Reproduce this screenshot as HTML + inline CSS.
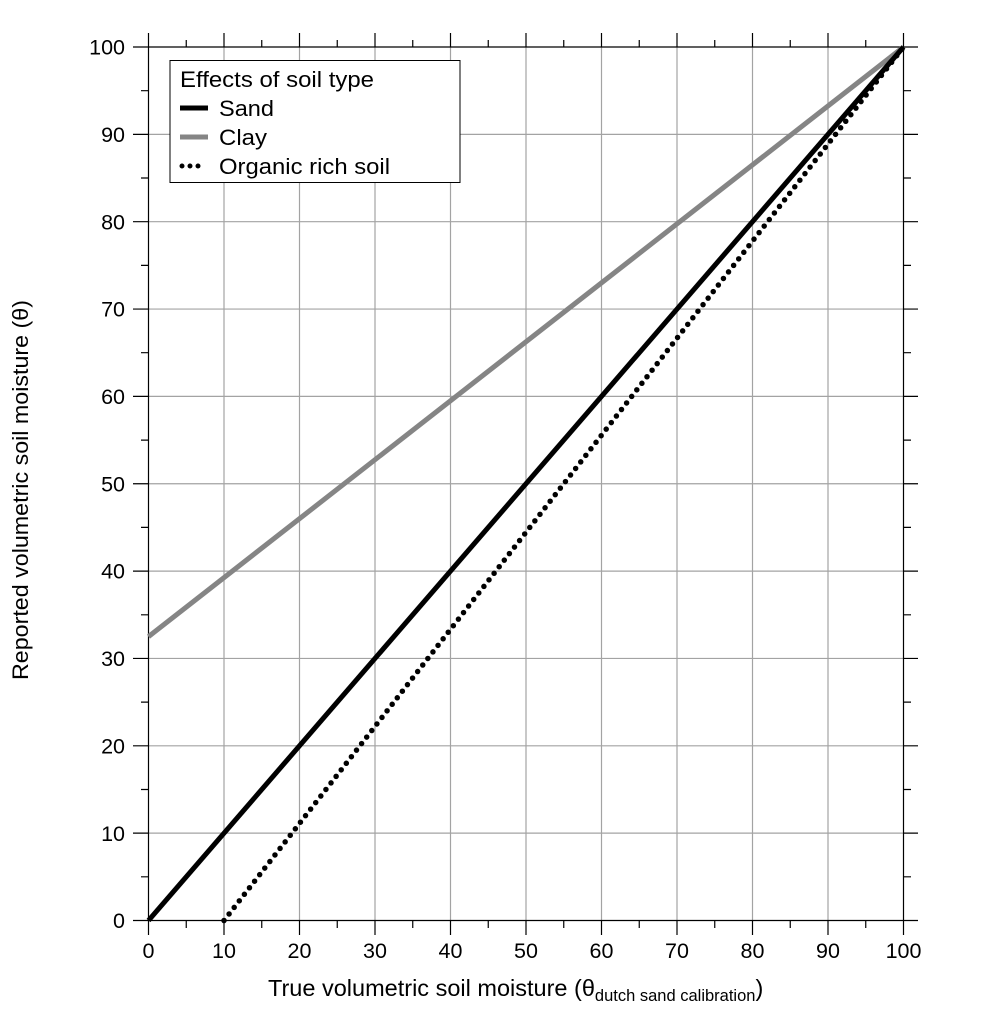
<!DOCTYPE html>
<html><head><style>body{margin:0;background:#fff}</style></head><body>
<svg width="1008" height="1008" xmlns="http://www.w3.org/2000/svg" font-family="Liberation Sans, sans-serif">
<g stroke="#a3a3a3" stroke-width="1.2">
<line x1="224" y1="47" x2="224" y2="920.5"/><line x1="299.5" y1="47" x2="299.5" y2="920.5"/><line x1="375" y1="47" x2="375" y2="920.5"/><line x1="450.5" y1="47" x2="450.5" y2="920.5"/><line x1="526" y1="47" x2="526" y2="920.5"/><line x1="601.5" y1="47" x2="601.5" y2="920.5"/><line x1="677" y1="47" x2="677" y2="920.5"/><line x1="752.5" y1="47" x2="752.5" y2="920.5"/><line x1="828" y1="47" x2="828" y2="920.5"/>
<line x1="148.5" y1="833.15" x2="903.5" y2="833.15"/><line x1="148.5" y1="745.8" x2="903.5" y2="745.8"/><line x1="148.5" y1="658.45" x2="903.5" y2="658.45"/><line x1="148.5" y1="571.1" x2="903.5" y2="571.1"/><line x1="148.5" y1="483.75" x2="903.5" y2="483.75"/><line x1="148.5" y1="396.4" x2="903.5" y2="396.4"/><line x1="148.5" y1="309.05" x2="903.5" y2="309.05"/><line x1="148.5" y1="221.7" x2="903.5" y2="221.7"/><line x1="148.5" y1="134.35" x2="903.5" y2="134.35"/>
</g>
<g stroke="#000" stroke-width="1.2">
<line x1="133" y1="47" x2="918" y2="47"/><line x1="133" y1="920.5" x2="918" y2="920.5"/>
<line x1="148.5" y1="33" x2="148.5" y2="935"/><line x1="903.5" y1="33" x2="903.5" y2="935"/>
<path d="M224 33V47M299.5 33V47M375 33V47M450.5 33V47M526 33V47M601.5 33V47M677 33V47M752.5 33V47M828 33V47
M224 920.5V935M299.5 920.5V935M375 920.5V935M450.5 920.5V935M526 920.5V935M601.5 920.5V935M677 920.5V935M752.5 920.5V935M828 920.5V935"/>
<path d="M186.25 40V47M261.75 40V47M337.25 40V47M412.75 40V47M488.25 40V47M563.75 40V47M639.25 40V47M714.75 40V47M790.25 40V47M865.75 40V47
M186.25 920.5V928M261.75 920.5V928M337.25 920.5V928M412.75 920.5V928M488.25 920.5V928M563.75 920.5V928M639.25 920.5V928M714.75 920.5V928M790.25 920.5V928M865.75 920.5V928"/>
<path d="M133 833.15H148.5M133 745.8H148.5M133 658.45H148.5M133 571.1H148.5M133 483.75H148.5M133 396.4H148.5M133 309.05H148.5M133 221.7H148.5M133 134.35H148.5
M903.5 833.15H918M903.5 745.8H918M903.5 658.45H918M903.5 571.1H918M903.5 483.75H918M903.5 396.4H918M903.5 309.05H918M903.5 221.7H918M903.5 134.35H918"/>
<path d="M141 876.8H148.5M141 789.5H148.5M141 702.1H148.5M141 614.8H148.5M141 527.4H148.5M141 440.1H148.5M141 352.7H148.5M141 265.4H148.5M141 178H148.5M141 90.7H148.5
M903.5 876.8H911M903.5 789.5H911M903.5 702.1H911M903.5 614.8H911M903.5 527.4H911M903.5 440.1H911M903.5 352.7H911M903.5 265.4H911M903.5 178H911M903.5 90.7H911"/>
</g>
<line x1="148.5" y1="636.6" x2="903.5" y2="47" stroke="#858585" stroke-width="5"/>
<line x1="148.5" y1="920.5" x2="903.5" y2="47" stroke="#000" stroke-width="5"/>
<line x1="224" y1="920.5" x2="903.5" y2="47" stroke="#000" stroke-width="5.5" stroke-linecap="round" stroke-dasharray="0 8.3"/>
<rect x="170" y="60.5" width="290" height="122" fill="#fff" stroke="#000" stroke-width="1"/>
<g font-size="22" fill="#000">
<text x="180" y="87" textLength="194" lengthAdjust="spacingAndGlyphs">Effects of soil type</text>
<text x="219" y="116" textLength="55" lengthAdjust="spacingAndGlyphs">Sand</text>
<text x="219" y="145" textLength="48" lengthAdjust="spacingAndGlyphs">Clay</text>
<text x="219" y="174" textLength="171" lengthAdjust="spacingAndGlyphs">Organic rich soil</text>
</g>
<line x1="180" y1="108" x2="208" y2="108" stroke="#000" stroke-width="5"/>
<line x1="180" y1="137" x2="208" y2="137" stroke="#858585" stroke-width="5"/>
<line x1="182" y1="166" x2="206" y2="166" stroke="#000" stroke-width="5" stroke-linecap="round" stroke-dasharray="0 8"/>
<g font-size="21.5" text-anchor="end">
<text x="125" y="928">0</text><text x="125" y="841">10</text><text x="125" y="753.5">20</text><text x="125" y="666">30</text><text x="125" y="578.5">40</text><text x="125" y="491.5">50</text><text x="125" y="404">60</text><text x="125" y="316.5">70</text><text x="125" y="229.5">80</text><text x="125" y="142">90</text><text x="125" y="54.5">100</text>
</g>
<g font-size="21.5" text-anchor="middle">
<text x="148.5" y="958">0</text><text x="224" y="958">10</text><text x="299.5" y="958">20</text><text x="375" y="958">30</text><text x="450.5" y="958">40</text><text x="526" y="958">50</text><text x="601.5" y="958">60</text><text x="677" y="958">70</text><text x="752.5" y="958">80</text><text x="828" y="958">90</text><text x="903.5" y="958">100</text>
</g>
<text x="268" y="996" font-size="23.5">True volumetric soil moisture (θ<tspan font-size="16.5" dy="5">dutch sand calibration</tspan><tspan dy="-5">)</tspan></text>
<text transform="translate(28,490) rotate(-90)" font-size="22" text-anchor="middle" textLength="380" lengthAdjust="spacingAndGlyphs">Reported volumetric soil moisture (θ)</text>
</svg>
</body></html>
